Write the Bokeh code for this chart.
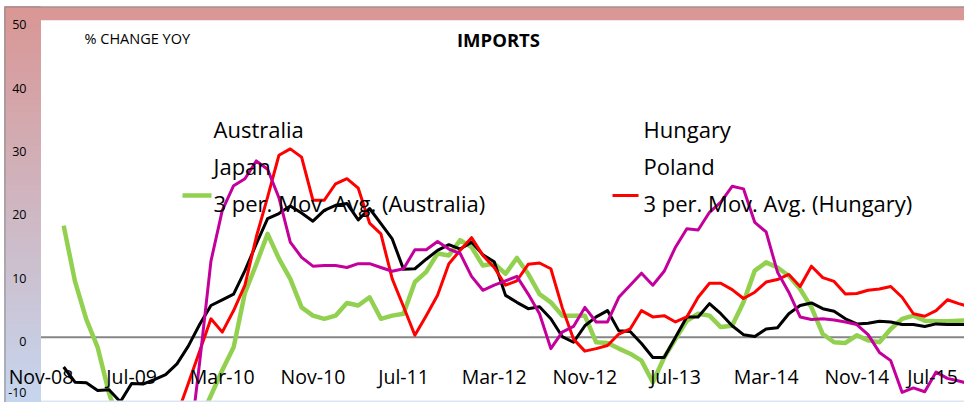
import numpy as np
from bokeh.plotting import figure
from bokeh.models import Range1d
from bokeh.embed import file_html
from bokeh.resources import INLINE
from bokeh.core.properties import value

# ---------------- data (month index: Nov-08 = 0, series start Jan-09 = 2) ----------------
first_month = 2
aus_ma = [17.6, 8.8, 2.8, -1.6, -8.8, -14.0, -17.0, -18.0, -18.0, -17.0, -16.0, -14.5, -13.0, -9.2,
          -5.2, -1.6, 7.0, 11.5, 16.3, 12.4, 9.2, 4.7, 3.4, 2.9, 3.4, 5.4, 5.0, 6.3, 2.9, 3.4,
          3.7, 8.7, 10.3, 13.2, 12.9, 15.3, 14.2, 11.3, 11.6, 10.0, 12.5, 10.0, 6.8, 5.5, 3.4,
          3.4, 3.4, -0.8, -0.9, -1.8, -2.6, -3.7, -7.1, -3.2, -0.3, 2.6, 3.7, 3.4, 1.6, 1.8,
          5.5, 10.5, 11.8, 11.0, 9.7, 7.6, 4.7, 0.5, -0.8, -0.9, 0.3, -0.5, -0.8, 1.3, 2.9,
          3.4, 2.6, 2.5, 2.5, 2.6, 2.7]
jap_ma = [-4.7, -7.1, -7.2, -8.4, -8.3, -10.2, -7.3, -7.4, -6.7, -5.9, -4.2, -1.4, 2.0, 5.0,
          5.9, 6.8, 10.5, 14.7, 18.7, 19.5, 20.7, 19.6, 18.3, 20.0, 20.8, 21.1, 18.5, 20.3, 17.9,
          15.5, 10.7, 10.8, 12.3, 13.7, 14.6, 13.9, 15.0, 13.0, 11.9, 6.6, 5.5, 4.5, 4.8, 2.9,
          0.1, -0.8, 1.8, 3.2, 4.2, 1.0, 0.9, -1.0, -3.2, -3.2, 0.0, 3.2, 3.2, 5.3, 3.7, 1.8,
          0.4, 0.1, 1.3, 1.5, 3.7, 5.0, 5.4, 4.5, 4.1, 2.9, 2.1, 2.2, 2.5, 2.4, 2.0, 2.0, 1.7,
          2.1, 2.0, 2.0, 2.0]
hun_ma = [-16.0, -19.0, -22.0, -24.0, -25.0, -25.0, -24.0, -22.0, -19.0, -16.0, -12.3, -7.3,
          -2.2, 2.9, 0.8, 4.2, 8.2, 15.8, 22.1, 28.7, 29.7, 28.4, 21.6, 21.6, 24.2, 25.0, 23.5,
          18.0, 16.3, 9.2, 4.8, 0.3, 3.4, 6.6, 11.6, 13.7, 15.7, 12.9, 11.0, 8.2, 8.9, 11.5, 11.7,
          10.8, 4.7, -0.3, -2.2, -1.8, -1.3, 0.5, 1.3, 4.2, 3.2, 3.4, 2.4, 3.2, 6.3, 8.5, 8.5,
          7.5, 6.1, 7.1, 8.7, 9.1, 9.9, 8.0, 11.2, 9.4, 8.8, 6.8, 6.9, 7.4, 7.6, 8.0, 6.3, 3.7,
          3.3, 4.2, 5.9, 5.3, 4.8]
pol_ma = [-20.0, -23.0, -25.0, -27.0, -28.0, -29.0, -29.0, -28.0, -27.0, -25.0, -23.0, -19.0,
          -4.0, 12.0, 20.0, 23.9, 25.0, 27.8, 26.5, 22.0, 15.0, 12.6, 11.2, 11.3, 11.3, 11.0,
          11.6, 11.6, 11.0, 10.4, 10.8, 13.8, 13.8, 15.1, 13.9, 13.2, 9.6, 7.4, 8.2, 8.9, 9.6,
          6.8, 3.7, -1.8, 0.8, 1.7, 4.7, 2.4, 2.4, 6.3, 8.2, 10.1, 8.2, 10.4, 14.2, 17.1, 16.9,
          19.7, 21.3, 23.8, 23.4, 18.1, 16.6, 10.3, 7.1, 3.2, 2.8, 2.9, 2.7, 2.4, 2.0, 0.4, -2.4,
          -3.7, -8.7, -8.0, -8.6, -5.5, -6.5, -6.9, -7.4]

x_tick_labels = ["Nov-08", "Jul-09", "Mar-10", "Nov-10", "Jul-11", "Mar-12",
                 "Nov-12", "Jul-13", "Mar-14", "Nov-14", "Jul-15"]
x_tick_months = [0, 8, 16, 24, 32, 40, 48, 56, 64, 72, 80]
y_ticks = [50, 40, 30, 20, 10, 0, -10]
y_min, y_max = -10, 50

legend_left = ["Australia", "Japan", "3 per. Mov. Avg. (Australia)"]
legend_right = ["Hungary", "Poland", "3 per. Mov. Avg. (Hungary)"]

months = list(range(first_month, first_month + len(aus_ma)))

# ---------------- layout helpers (picture pixels -> data) ----------------
W, H = 964, 402
X0, XS = 40.5, 11.33        # pixel x of month 0, px per month
Y0, YS = 336.7, 6.34        # pixel y of value 0, px per unit


def px_x(px):
    return (px - X0) / XS


def px_y(py):
    return (Y0 - py) / YS


def val_to_px(v):
    return Y0 - v * YS


x_lo, x_hi = px_x(0), px_x(W)
y_hi, y_lo = px_y(0), px_y(H)
plot_left = px_x(40)

p = figure(width=W, height=H, output_backend="svg", toolbar_location=None,
           x_range=Range1d(x_lo, x_hi), y_range=Range1d(y_lo, y_hi),
           x_axis_location=None, y_axis_location=None, min_border=0)
p.grid.visible = False
p.outline_line_color = None
p.background_fill_color = "white"
p.border_fill_color = "white"

# zero line (horizontal axis)
p.segment(x0=[plot_left], y0=[0], x1=[x_hi], y1=[0], line_color="#868686", line_width=2)

# series
p.line(months, aus_ma, line_color="#92D050", line_width=4.5, line_join="round")
p.line(months, jap_ma, line_color="#000000", line_width=3, line_join="round")
p.line(months, hun_ma, line_color="#FF0000", line_width=3, line_join="round")
p.line(months, pol_ma, line_color="#C4009C", line_width=3, line_join="round")

# chart-area frame around the white plot area (also masks values below the axis minimum)
p.quad(left=[px_x(4)], right=[x_hi], bottom=[y_lo], top=[y_min], fill_color="#DCE6F2", line_color=None)
n = 60
edges = np.linspace(y_lo, px_y(6), n + 1)
top_c = np.array([217, 150, 148])
bot_c = np.array([197, 214, 238])
cols = []
for k in range(n):
    t = (k + 0.5) / n
    c = bot_c + (top_c - bot_c) * t
    cols.append("#%02x%02x%02x" % tuple(int(round(v)) for v in c))
p.quad(left=[px_x(4)] * n, right=[plot_left] * n, bottom=edges[:-1], top=edges[1:],
       fill_color=cols, line_color=cols)
p.quad(left=[plot_left], right=[x_hi], bottom=[y_max], top=[px_y(6)], fill_color="#D99795", line_color=None)
# outer border
p.segment(x0=[px_x(4.5), px_x(4.5)], y0=[px_y(6.5), px_y(6.5)], x1=[px_x(4.5), x_hi],
          y1=[y_lo, px_y(6.5)], line_color="#8C8C8C", line_width=1)

font = value("Open Sans")
# y tick labels (baseline kept inside the picture for the lowest one)
y_label_base = [px_y(min(val_to_px(t) + 4.5, H - 10)) for t in y_ticks]
p.text(x=[px_x(26)] * len(y_ticks), y=y_label_base, text=[str(t) for t in y_ticks],
       text_align="right", text_baseline="alphabetic", text_font=font,
       text_font_size="12.5px", text_color="#000000")
# x tick labels (next to the axis that crosses at zero); last one kept inside the edge
x_label_pos = [min(m, px_x(W - 32)) for m in x_tick_months]
p.text(x=x_label_pos, y=[px_y(376)] * len(x_tick_months), text=x_tick_labels,
       text_align="center", text_baseline="alphabetic", text_font=font,
       text_font_size="19.5px", text_color="#000000")

# titles
p.text(x=[px_x(498)], y=[px_y(39)], text=["IMPORTS"], text_align="center",
       text_baseline="alphabetic", text_font=font, text_font_size="18.5px",
       text_font_style="bold", text_color="#000000")
p.text(x=[px_x(84)], y=[px_y(38)], text=["% CHANGE  YOY"], text_align="left",
       text_baseline="alphabetic", text_font=font, text_font_size="14.5px", text_color="#000000")

# legend
leg_rows = [px_y(128.5), px_y(165.5), px_y(202.5)]
p.text(x=[px_x(213)] * 3, y=leg_rows, text=legend_left, text_align="left",
       text_baseline="alphabetic", text_font=font, text_font_size="22px", text_color="#000000")
p.text(x=[px_x(643)] * 3, y=leg_rows, text=legend_right, text_align="left",
       text_baseline="alphabetic", text_font=font, text_font_size="22px", text_color="#000000")
p.segment(x0=[px_x(182)], y0=[px_y(195)], x1=[px_x(211)], y1=[px_y(195)],
          line_color="#92D050", line_width=4.5)
p.segment(x0=[px_x(612)], y0=[px_y(195)], x1=[px_x(638)], y1=[px_y(195)],
          line_color="#FF0000", line_width=3)

open("out.html", "w").write(file_html(p, INLINE))
